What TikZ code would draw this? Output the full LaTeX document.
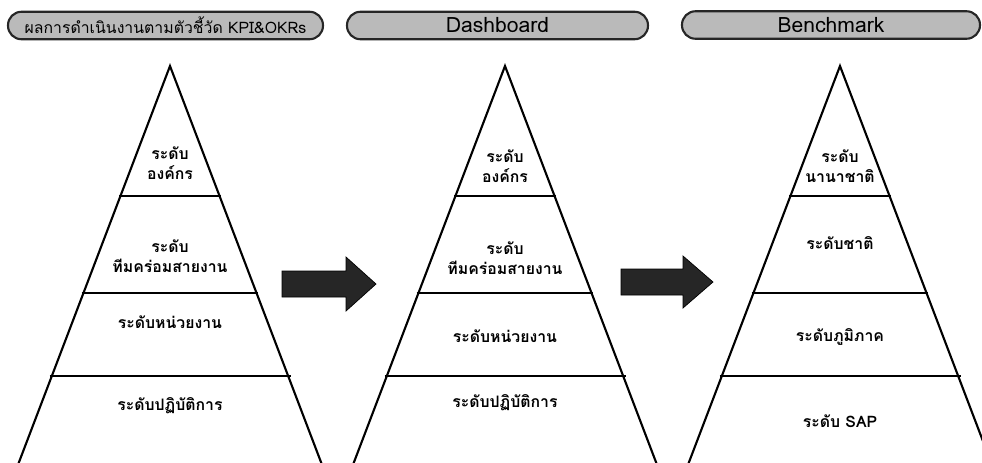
\documentclass[tikz,border=0pt]{standalone}
\usepackage{fontspec}
\setmainfont[Script=Thai]{Loma}
\usepackage{tikz}
\usetikzlibrary{positioning}

\tikzset{
	pill/.style={draw=black!85, line width=1.2pt, fill=black!27, rounded corners=0.27cm,
		minimum height=0.55cm, inner sep=0pt, font=\fontsize{12}{14}\selectfont},
	lvl/.style={align=center, font=\bfseries\fontsize{9}{11.5}\selectfont},
	edge/.style={line width=1.2pt, line join=miter},
	cut/.style={line width=0.9pt},
	blockarrow/.style={fill=black!85, draw=black, line width=0.4pt}
}

\begin{document}
\begin{tikzpicture}[x=0.2mm, y=-0.2mm]
	\useasboundingbox (0,0) rectangle (982,462);
	
	% headers
	\node[pill, minimum width=6.3cm, font=\fontsize{9}{11}\selectfont] (head1) at (165.5, 25.5) {ผลการดำเนินงานตามตัวชี้วัด KPI\&OKRs};
	\node[pill, minimum width=6.02cm] (head2) at (497.5, 25.5) {Dashboard};
	\node[pill, minimum width=5.96cm] (head3) at (831, 25) {Benchmark};
	
	% pyramid 1
	\draw[edge] (16, 470) -- (170, 66) -- (324, 470);
	\draw[cut] (119.3, 196) -- (220.7, 196);
	\draw[cut] (81.7, 293) -- (258.3, 293);
	\draw[cut] (49.5, 376) -- (290.5, 376);
	\node[lvl] (p1a) at (170, 163) {ระดับ\\องค์กร};
	\node[lvl] (p1b) at (170, 256) {ระดับ\\ทีมคร่อมสายงาน};
	\node[lvl] (p1c) at (170, 322) {ระดับหน่วยงาน};
	\node[lvl] (p1d) at (170, 406) {ระดับปฏิบัติการ};
	
	% pyramid 2
	\draw[edge] (351, 470) -- (505, 66) -- (659, 470);
	\draw[cut] (454.3, 196) -- (555.7, 196);
	\draw[cut] (416.7, 293) -- (593.3, 293);
	\draw[cut] (384.5, 376) -- (625.5, 376);
	\node[lvl] (p2a) at (505, 166) {ระดับ\\องค์กร};
	\node[lvl] (p2b) at (505, 258) {ระดับ\\ทีมคร่อมสายงาน};
	\node[lvl] (p2c) at (505, 336) {ระดับหน่วยงาน};
	\node[lvl] (p2d) at (505, 403) {ระดับปฏิบัติการ};
	
	% pyramid 3
	\draw[edge] (686, 470) -- (840, 66) -- (994, 470);
	\draw[cut] (789.3, 196) -- (890.7, 196);
	\draw[cut] (751.7, 293) -- (928.3, 293);
	\draw[cut] (719.5, 376) -- (960.5, 376);
	\node[lvl] (p3a) at (840, 166) {ระดับ\\นานาชาติ};
	\node[lvl] (p3b) at (840, 243) {ระดับชาติ};
	\node[lvl] (p3c) at (840, 337) {ระดับภูมิภาค};
	\node[lvl] (p3d) at (840, 421) {ระดับ SAP};
	
	% arrows
	\draw[blockarrow] (282, 271) -- (346, 271) -- (346, 257) -- (376, 284)
		-- (346, 311) -- (346, 297) -- (282, 297) -- cycle;
	\draw[blockarrow] (621, 269) -- (683, 269) -- (683, 256) -- (713, 282)
		-- (683, 308) -- (683, 295) -- (621, 295) -- cycle;
	
\end{tikzpicture}
\end{document}
